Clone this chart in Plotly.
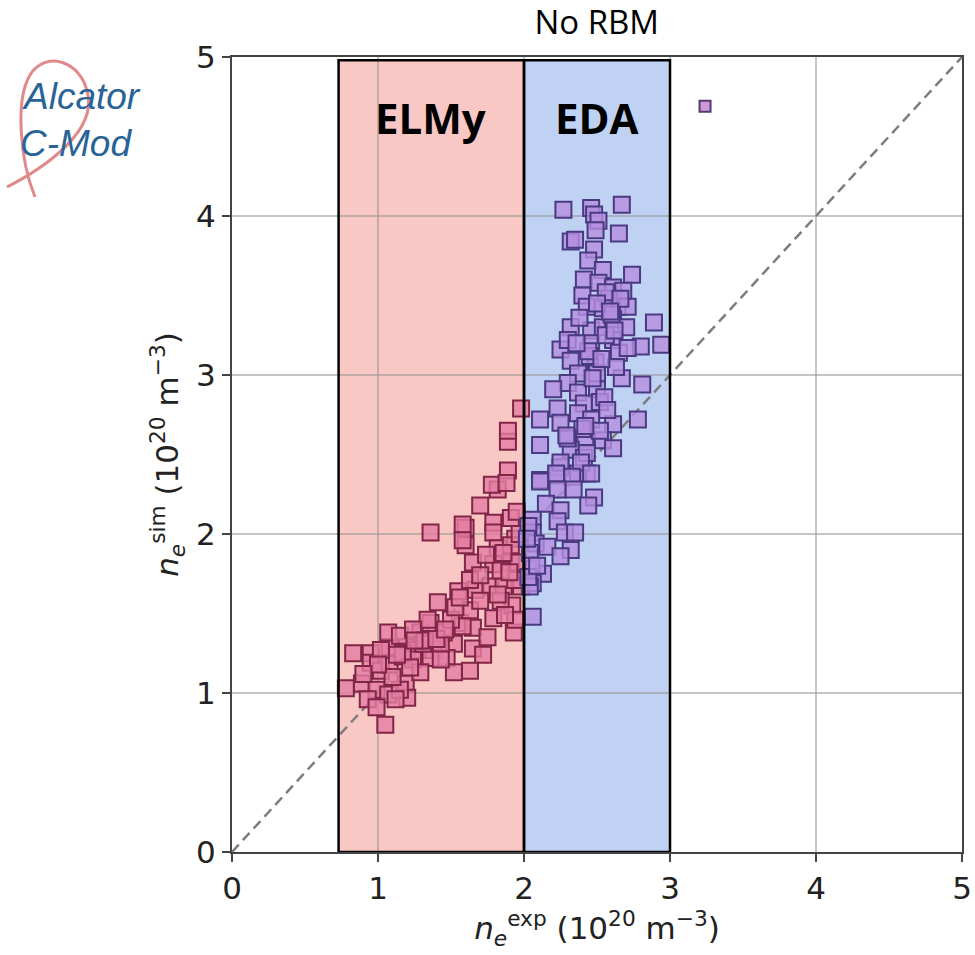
import plotly.graph_objects as go

# ELMy (pink) points
elmy_x = [0.78,0.89,0.99,1.07,1.19,1.20,0.93,0.99,1.05,0.83,0.95,1.08,1.20,1.27,1.38,1.52,1.65,1.72,
          0.95,1.02,1.08,1.17,1.24,1.36,1.47,1.52,1.63,1.07,1.15,1.29,1.36,1.45,1.56,1.65,1.75,1.41,
          1.79,1.93,1.36,1.60,1.60,1.82,1.89,1.89,1.89,1.98,1.78,1.88,1.70,1.58,1.58,1.79,1.79,1.91,
          1.95,1.82,1.94,1.65,1.79,1.91,1.96,1.55,1.67,1.77,1.86,1.98,1.92,1.58,1.50,1.34,1.24,1.31,
          1.43,1.02,1.17,1.15,1.29,1.43,1.12,1.63,1.70,1.53,1.84,1.94,1.84,1.74,1.91,1.63,1.94,1.87,
          1.10,1.22,1.32,1.40,1.46,1.56,1.70,1.86,1.97,1.90,1.82,1.00,0.90,1.13,1.25]
elmy_y = [1.03,1.06,1.02,0.99,1.06,0.97,0.96,0.91,0.80,1.25,1.25,1.29,1.29,1.27,1.27,1.31,1.28,1.24,
          1.19,1.14,1.18,1.23,1.21,1.22,1.22,1.13,1.14,1.38,1.36,1.38,1.44,1.38,1.44,1.41,1.35,1.57,
          1.47,1.38,2.01,2.04,1.93,2.28,2.40,2.58,2.65,2.79,2.31,2.32,2.18,2.06,1.96,2.07,2.01,2.10,
          2.14,1.91,1.97,1.82,1.81,1.82,1.82,1.64,1.65,1.67,1.67,1.67,1.55,1.42,1.46,1.46,1.40,1.31,
          1.31,1.27,1.25,1.02,1.13,1.21,0.96,1.52,1.58,1.54,1.58,1.71,1.77,1.87,1.93,1.71,1.46,1.49,
          1.10,1.16,1.33,1.34,1.40,1.60,1.74,1.88,2.00,1.76,1.62,1.18,1.12,1.24,1.33]

# EDA (purple) points
eda_x = [2.27,2.46,2.67,2.48,2.51,2.49,2.65,2.32,2.35,2.48,2.44,2.54,2.74,2.41,2.51,2.61,2.68,2.40,
         2.43,2.54,2.64,2.71,2.32,2.46,2.54,2.61,2.70,2.89,2.25,2.30,2.46,2.61,2.80,2.94,2.32,2.49,
         2.65,2.71,2.37,2.50,2.67,2.81,2.30,2.20,2.37,2.50,2.23,2.41,2.52,2.11,2.25,2.37,2.46,2.61,
         2.78,2.11,2.42,2.54,2.61,2.32,2.41,2.25,2.43,2.11,2.23,2.37,2.43,2.25,2.39,2.22,2.33,2.46,
         2.11,2.23,2.34,2.48,2.44,2.15,2.25,2.23,2.06,2.28,2.35,2.06,2.08,2.16,2.32,2.25,2.04,2.13,
         2.06,2.04,2.06,2.03,2.02,2.05,2.03,2.09,2.58,2.56,2.63,2.45,2.38,2.55,2.60,2.52,2.40,2.30,
         2.56,2.50,2.44,2.62,2.36,2.47,2.57,2.42,2.53,2.29,2.66,2.59]
eda_y = [4.04,4.05,4.07,4.01,3.97,3.91,3.89,3.84,3.85,3.79,3.72,3.66,3.63,3.60,3.58,3.55,3.53,3.50,
         3.43,3.42,3.43,3.43,3.30,3.28,3.30,3.35,3.30,3.33,3.16,3.22,3.20,3.22,3.18,3.19,3.09,3.08,
         3.14,3.17,3.01,3.01,2.98,2.94,2.95,2.91,2.89,2.91,2.79,2.82,2.83,2.72,2.70,2.76,2.72,2.69,
         2.72,2.56,2.60,2.59,2.54,2.53,2.48,2.42,2.38,2.34,2.37,2.38,2.51,2.45,2.45,2.38,2.36,2.38,
         2.33,2.28,2.28,2.23,2.18,2.19,2.15,2.08,2.09,2.01,2.01,2.01,1.94,1.92,1.90,1.86,1.88,1.75,
         1.69,1.67,1.48,2.05,1.97,1.80,1.73,1.80,3.48,3.25,3.05,3.12,3.36,2.86,3.38,2.65,2.66,2.60,
         3.52,3.45,3.15,3.28,3.20,2.98,2.78,2.68,3.10,2.62,3.48,3.40]

outlier_x = [3.24]
outlier_y = [4.69]

regions = [("ELMy", 0.73, 2.0, 1.36, "rgb(249,200,196)"), ("EDA", 2.0, 3.0, 2.5, "rgb(192,210,244)")]
region_top = 4.98
label_y = 4.62
ticks = [0, 1, 2, 3, 4, 5]

fig = go.Figure()

fig.add_trace(go.Scatter(x=[0, 5], y=[0, 5], mode="lines",
                         line=dict(color="rgb(125,125,125)", width=2.5, dash="10px,6px"),
                         hoverinfo="skip", showlegend=False))

fig.add_trace(go.Scatter(x=elmy_x, y=elmy_y, mode="markers", showlegend=False,
                         marker=dict(symbol="square", size=16, color="rgba(228,125,162,0.8)",
                                     line=dict(color="rgb(130,38,72)", width=2))))
fig.add_trace(go.Scatter(x=eda_x, y=eda_y, mode="markers", showlegend=False,
                         marker=dict(symbol="square", size=16, color="rgba(180,142,222,0.8)",
                                     line=dict(color="rgb(74,58,130)", width=2))))
fig.add_trace(go.Scatter(x=outlier_x, y=outlier_y, mode="markers", showlegend=False,
                         marker=dict(symbol="square", size=11, color="rgba(205,140,212,0.9)",
                                     line=dict(color="rgb(80,60,110)", width=2))))

for name, x0, x1, lx, col in regions:
    fig.add_shape(type="rect", xref="x", yref="y", x0=x0, x1=x1, y0=0, y1=region_top,
                  fillcolor=col, line=dict(width=0), layer="below")
    fig.add_shape(type="rect", xref="x", yref="y", x0=x0, x1=x1, y0=0, y1=region_top,
                  fillcolor="rgba(0,0,0,0)", line=dict(color="black", width=2.5), layer="above")
    fig.add_annotation(x=lx, y=label_y, xref="x", yref="y", xanchor="center", yanchor="middle",
                       text="<b>%s</b>" % name, showarrow=False,
                       font=dict(family="Open Sans", size=42, color="black"))

# logo
fig.add_shape(type="path", xref="paper", yref="paper",
              path="M -0.3082,0.8365 C -0.2493,0.8642 -0.1877,0.9082 -0.1973,0.9522 "
                   "C -0.2055,0.9962 -0.2562,1.0088 -0.2767,0.9774 "
                   "C -0.2973,0.9459 -0.2904,0.8704 -0.2699,0.8239",
              line=dict(color="rgba(218,115,118,0.85)", width=3))
fig.add_annotation(x=-0.2068, y=0.9497, xref="paper", yref="paper", xanchor="center", yanchor="middle",
                   text="<i>Alcator</i>", showarrow=False,
                   font=dict(family="Liberation Sans", size=37, color="rgb(42,100,150)"))
fig.add_annotation(x=-0.2137, y=0.8918, xref="paper", yref="paper", xanchor="center", yanchor="middle",
                   text="<i>C-Mod</i>", showarrow=False,
                   font=dict(family="Liberation Sans", size=37, color="rgb(42,100,150)"))

axis_common = dict(range=[0, 5], tickvals=ticks, ticks="outside", ticklen=8, tickwidth=1.5,
                   tickcolor="#444", showgrid=True, gridcolor="rgba(150,150,150,0.55)", gridwidth=1.5,
                   showline=True, linecolor="#444", linewidth=2, mirror=True, zeroline=False,
                   automargin=False,
                   tickfont=dict(family="DejaVu Sans", size=31, color="#222"))

fig.update_layout(
    width=975, height=955,
    margin=dict(l=232, r=13, t=57, b=103),
    plot_bgcolor="white", paper_bgcolor="white",
    title=dict(text="No RBM", x=0.612, xanchor="center", y=0.977, yanchor="middle",
               font=dict(family="Open Sans", size=33, color="black")),
    xaxis=dict(**axis_common,
               title=dict(text="<i>n</i><sub><i>e</i></sub><sup>exp</sup> (10<sup>20</sup> m<sup>−3</sup>)",
                          font=dict(family="DejaVu Sans", size=31, color="#222"), standoff=6)),
    yaxis=dict(**axis_common,
               title=dict(text="<i>n</i><sub><i>e</i></sub><sup>sim</sup> (10<sup>20</sup> m<sup>−3</sup>)",
                          font=dict(family="DejaVu Sans", size=31, color="#222"), standoff=8)),
)

fig.write_html("out.html")
